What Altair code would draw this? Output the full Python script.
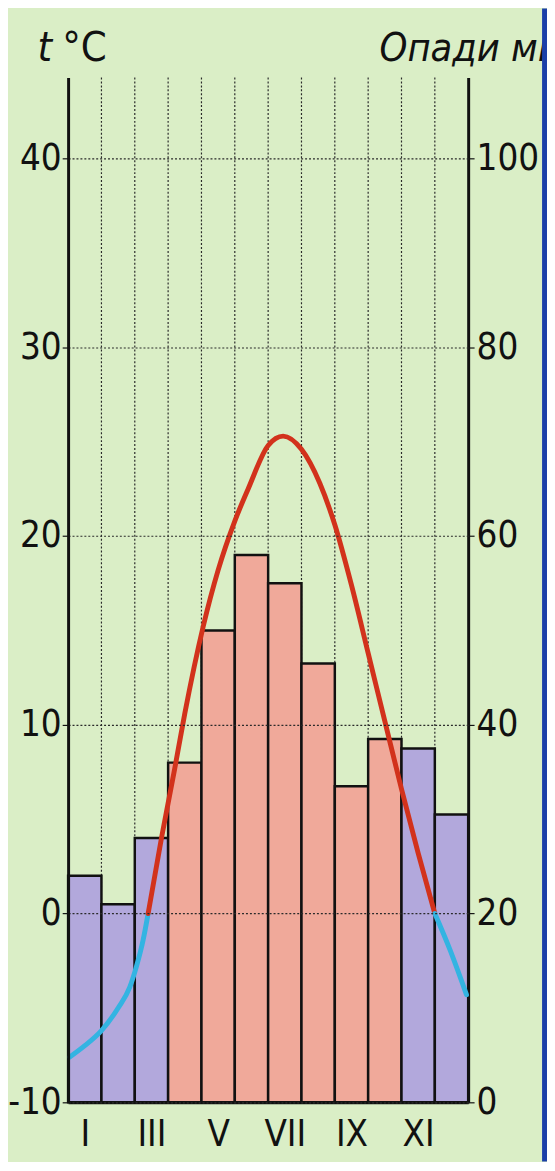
import altair as alt
import pandas as pd

# ---- data ----
months = ["I", "II", "III", "IV", "V", "VI", "VII", "VIII", "IX", "X", "XI", "XII"]
precip_mm = [24, 21, 28, 36, 50, 58, 55, 46.5, 33.5, 38.5, 37.5, 30.5]
bar_kind = ["cold", "cold", "cold", "warm", "warm", "warm", "warm", "warm", "warm", "warm", "cold", "cold"]

# temperature curve, position in months from the left edge of January
curve_pos = [0.05, 0.5, 1.0, 1.5, 1.85, 2.05, 2.25, 2.4,
             2.4, 2.8, 3.2, 3.5, 4.05, 4.5, 5.0, 5.4, 6.0, 6.45, 7.0, 7.55, 8.0, 8.5, 9.0, 9.5, 10.0, 10.5, 11.0,
             11.0, 11.45, 11.95]
curve_temp = [-7.6, -7.0, -6.2, -5.0, -3.9, -2.8, -1.4, 0.0,
              0.0, 4.0, 7.7, 10.6, 15.2, 18.2, 20.8, 22.5, 24.8, 25.3, 24.6, 22.8, 20.6, 17.4, 13.8, 10.2, 6.6, 3.2, 0.0,
              0.0, -1.9, -4.3]
curve_seg = ["cold1"] * 8 + ["warm"] * 19 + ["cold2"] * 3

temp_ticks = [-10, 0, 10, 20, 30, 40]
mm_ticks = [0, 20, 40, 60, 80, 100]
label_pos = [0.5, 2.5, 4.5, 6.5, 8.5, 10.5]
boundaries = [1, 2, 3, 4, 5, 6, 7, 8, 9, 10, 11]

title_t = "t"
title_unit = "°C"
title_right = "Опади мм"

FONT = "DejaVu Sans Condensed, Liberation Sans Narrow, sans-serif"
BLACK = "#111111"
FS = 37

bars_df = pd.DataFrame({
    "month": months,
    "start": list(range(12)),
    "end": [i + 1 for i in range(12)],
    "mm": precip_mm,
    "kind": bar_kind,
})
curve_df = pd.DataFrame({"pos": curve_pos, "temp": curve_temp, "seg": curve_seg})
grid_df = pd.DataFrame({"b": boundaries})

xscale = alt.Scale(domain=[0, 12], nice=False, zero=False)
label_expr = "[" + ",".join("'%s'" % m for m in months) + "][floor(datum.value)]"
x_axis = alt.Axis(values=label_pos, labelExpr=label_expr, ticks=False, grid=False,
                  domain=True, domainWidth=3, domainColor=BLACK, labelFontSize=FS,
                  labelPadding=15, labelColor=BLACK, labelFont=FONT, title=None)

vgrid = alt.Chart(grid_df).mark_rule(
    color="#2a2a2a", strokeWidth=1.2, strokeDash=[2, 2]
).encode(x=alt.X("b:Q", scale=xscale, axis=x_axis))

bars = alt.Chart(bars_df).mark_rect(stroke=BLACK, strokeWidth=2.5).encode(
    x=alt.X("start:Q", scale=xscale, axis=x_axis),
    x2="end:Q",
    y=alt.Y("mm:Q", scale=alt.Scale(domain=[0, 108.6], nice=False, zero=True),
            axis=alt.Axis(orient="right", values=mm_ticks, grid=False, domainWidth=3,
                          domainColor=BLACK, tickSize=6, tickColor=BLACK, tickWidth=1.2,
                          labelPadding=2, labelFontSize=FS, labelFont=FONT, labelColor=BLACK,
                          labelBaseline="middle", title=None)),
    y2=alt.datum(0),
    color=alt.Color("kind:N", scale=alt.Scale(domain=["cold", "warm"], range=["#b2a8dc", "#f0a99a"]),
                    legend=None),
)

curve = alt.Chart(curve_df).mark_line(strokeWidth=5, interpolate="monotone", strokeCap="round").encode(
    x=alt.X("pos:Q", scale=xscale, axis=x_axis),
    y=alt.Y("temp:Q", scale=alt.Scale(domain=[-10, 44.3], nice=False, zero=False),
            axis=alt.Axis(orient="left", values=temp_ticks, grid=True, gridDash=[2, 2],
                          gridColor="#2a2a2a", gridWidth=1.2, domainWidth=3, domainColor=BLACK,
                          tickSize=6, tickColor=BLACK, tickWidth=1.2, labelFontSize=FS,
                          labelFont=FONT, labelColor=BLACK, labelPadding=1,
                          labelExpr="datum.value < 0 ? '-' + abs(datum.value) : '' + datum.value",
                          labelBaseline="middle", title=None, zindex=1)),
    color=alt.Color("seg:N", scale=alt.Scale(domain=["cold1", "warm", "cold2"],
                                              range=["#33b4e2", "#d2321c", "#33b4e2"]), legend=None),
    detail="seg:N",
)

t_label = alt.Chart(pd.DataFrame({"s": [title_t]})).mark_text(
    fontSize=42, font=FONT, fontStyle="italic", align="left", baseline="alphabetic", color=BLACK
).encode(text="s:N", x=alt.value(-31), y=alt.value(-17))

unit_label = alt.Chart(pd.DataFrame({"s": [title_unit]})).mark_text(
    fontSize=42, font=FONT, align="left", baseline="alphabetic", color=BLACK
).encode(text="s:N", x=alt.value(-6), y=alt.value(-17))

right_label = alt.Chart(pd.DataFrame({"s": [title_right]})).mark_text(
    fontSize=40, font=FONT, fontStyle="italic", align="left", baseline="alphabetic", color=BLACK
).encode(text="s:N", x=alt.value(316), y=alt.value(-17))

border = alt.Chart(pd.DataFrame({"s": [1]})).mark_rect(color="#1b3fa8").encode(
    x=alt.value(481), x2=alt.value(500), y=alt.value(-70), y2=alt.value(1100)
)

chart = alt.layer(vgrid, bars, curve, t_label, unit_label, right_label, border).resolve_scale(
    y="independent", color="independent"
).properties(
    width=406, height=1040,
    padding={"left": 61, "top": 62, "right": 80, "bottom": 52},
    autosize=alt.AutoSizeParams(type="none"),
    background="#daeec6",
).configure_view(stroke=None)

chart.save("out.html", embed_options={"renderer": "svg", "actions": False})
